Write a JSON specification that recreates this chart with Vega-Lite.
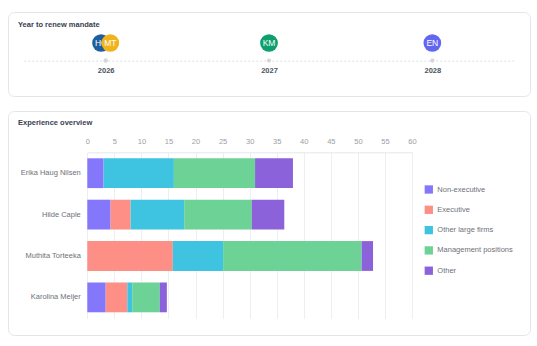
{
  "$schema": "https://vega.github.io/schema/vega-lite/v6.json",
  "padding": {"left": 7, "top": 11, "right": 0, "bottom": 0},
  "background": "white",
  "spacing": 13,
  "config": {"font": "Liberation Sans"},
  "resolve": {"scale": {"color": "independent"}, "legend": {"color": "independent"}},
  "vconcat": [
    {
      "width": 522,
      "height": 84,
      "view": {"stroke": "#e3e5e8", "cornerRadius": 6, "strokeWidth": 1, "fill": "white"},
      "title": {"text": "Year to renew mandate", "anchor": "start", "frame": "group", "orient": "top", "offset": -20, "baseline": "middle", "dx": 10, "fontSize": 7.5, "font": "Liberation Sans", "fontWeight": "bold", "color": "#374151"},
      "data": {"values": [
        {"initials": "HC", "name": "Hilde Caple", "year": 2026},
        {"initials": "MT", "name": "Muthita Torteeka", "year": 2026},
        {"initials": "KM", "name": "Karolina Meijer", "year": 2027},
        {"initials": "EN", "name": "Erika Haug Nilsen", "year": 2028}
      ]},
      "encoding": {
        "x": {"field": "year", "type": "quantitative",
          "scale": {"domain": [2025.5, 2028.5], "range": [16, 506], "nice": false, "zero": false},
          "axis": {"orient": "bottom", "offset": -35.4, "values": [2026, 2027, 2028], "format": "d", "title": null, "ticks": false, "grid": false, "labelFlush": false, "domainColor": "#d1d5db", "domainDash": [1.5, 2.5], "domainWidth": 1, "labelFont": "Liberation Sans", "labelFontSize": 7.5, "labelFontWeight": "bold", "labelColor": "#4b5563", "labelPadding": 6}}
      },
      "layer": [
        {"mark": {"type": "point", "filled": true, "color": "#d4d6da", "size": 18, "opacity": 1, "yOffset": 6.6}},
        {"transform": [{"filter": "datum.initials === 'HC'"}],
         "mark": {"type": "circle", "size": 314, "opacity": 1, "yOffset": -11, "xOffset": -4.6},
         "encoding": {"color": {"field": "initials", "type": "nominal", "scale": {"domain": ["HC", "MT", "KM", "EN"], "range": ["#1f5e9c", "#f0b31c", "#0e9f6e", "#6366f1"]}, "legend": null}}},
        {"transform": [{"filter": "datum.initials === 'HC'"}],
         "mark": {"type": "text", "color": "white", "fontSize": 8.5, "fontWeight": 500, "yOffset": -11, "xOffset": -4.6},
         "encoding": {"text": {"field": "initials"}}},
        {"transform": [{"filter": "datum.initials === 'MT'"}],
         "mark": {"type": "circle", "size": 314, "opacity": 1, "yOffset": -11, "xOffset": 4.6},
         "encoding": {"color": {"field": "initials", "type": "nominal", "legend": null}}},
        {"transform": [{"filter": "datum.initials === 'MT'"}],
         "mark": {"type": "text", "color": "white", "fontSize": 8.5, "fontWeight": 500, "yOffset": -11, "xOffset": 4.6},
         "encoding": {"text": {"field": "initials"}}},
        {"transform": [{"filter": "datum.year !== 2026"}],
         "mark": {"type": "circle", "size": 314, "opacity": 1, "yOffset": -11},
         "encoding": {"color": {"field": "initials", "type": "nominal", "legend": null}}},
        {"transform": [{"filter": "datum.year !== 2026"}],
         "mark": {"type": "text", "color": "white", "fontSize": 8.5, "fontWeight": 500, "yOffset": -11},
         "encoding": {"text": {"field": "initials"}}}
      ]
    },
    {
      "width": 522,
      "height": 224,
      "view": {"stroke": "#e3e5e8", "cornerRadius": 6, "strokeWidth": 1, "fill": "white"},
      "title": {"text": "Experience overview", "anchor": "start", "frame": "group", "orient": "top", "offset": -19, "baseline": "middle", "dx": 10, "fontSize": 7.5, "font": "Liberation Sans", "fontWeight": "bold", "color": "#374151"},
      "data": {"values": [
        {"name": "Erika Haug Nilsen", "category": "Non-executive", "seq": 1, "years": 3},
        {"name": "Erika Haug Nilsen", "category": "Other large firms", "seq": 3, "years": 13},
        {"name": "Erika Haug Nilsen", "category": "Management positions", "seq": 4, "years": 15},
        {"name": "Erika Haug Nilsen", "category": "Other", "seq": 5, "years": 7},
        {"name": "Hilde Caple", "category": "Non-executive", "seq": 1, "years": 4.3},
        {"name": "Hilde Caple", "category": "Executive", "seq": 2, "years": 3.7},
        {"name": "Hilde Caple", "category": "Other large firms", "seq": 3, "years": 9.9},
        {"name": "Hilde Caple", "category": "Management positions", "seq": 4, "years": 12.5},
        {"name": "Hilde Caple", "category": "Other", "seq": 5, "years": 6},
        {"name": "Muthita Torteeka", "category": "Executive", "seq": 2, "years": 15.8},
        {"name": "Muthita Torteeka", "category": "Other large firms", "seq": 3, "years": 9.3},
        {"name": "Muthita Torteeka", "category": "Management positions", "seq": 4, "years": 25.6},
        {"name": "Muthita Torteeka", "category": "Other", "seq": 5, "years": 2.1},
        {"name": "Karolina Meijer", "category": "Non-executive", "seq": 1, "years": 3.4},
        {"name": "Karolina Meijer", "category": "Executive", "seq": 2, "years": 4},
        {"name": "Karolina Meijer", "category": "Other large firms", "seq": 3, "years": 0.9},
        {"name": "Karolina Meijer", "category": "Management positions", "seq": 4, "years": 5.1},
        {"name": "Karolina Meijer", "category": "Other", "seq": 5, "years": 1.3}
      ]},
      "mark": {"type": "bar"},
      "encoding": {
        "y": {"field": "name", "type": "nominal",
          "sort": ["Erika Haug Nilsen", "Hilde Caple", "Muthita Torteeka", "Karolina Meijer"],
          "scale": {"range": [41.3, 207.3], "paddingInner": 0.28, "paddingOuter": 0.145},
          "axis": {"title": null, "offset": -79.3, "domain": false, "ticks": false, "grid": false, "labelPadding": 7, "labelFontSize": 7.5, "labelColor": "#6e7178", "labelFont": "Liberation Sans"}},
        "x": {"field": "years", "type": "quantitative", "stack": "zero",
          "scale": {"domain": [0, 60], "range": [79.3, 404], "nice": false},
          "axis": {"orient": "top", "offset": -41.3, "values": [0, 5, 10, 15, 20, 25, 30, 35, 40, 45, 50, 55, 60], "title": null, "ticks": false, "grid": true, "gridColor": "#eceef2", "domainColor": "#e5e7eb", "labelFlush": false, "labelColor": "#9a9ea6", "labelFontSize": 7.5, "labelPadding": 7, "labelFont": "Liberation Sans"}},
        "color": {"field": "category", "type": "nominal",
          "scale": {"domain": ["Non-executive", "Executive", "Other large firms", "Management positions", "Other"], "range": ["#8577fb", "#fd8f86", "#3ec3e0", "#6dd296", "#8b62da"]},
          "legend": {"orient": "none", "legendX": 416.3, "legendY": 74, "title": null, "symbolType": "square", "symbolSize": 69, "symbolStrokeWidth": 0, "symbolOpacity": 1, "labelFontSize": 7.5, "labelColor": "#6e7178", "labelFont": "Liberation Sans", "rowPadding": 11.3, "labelOffset": 4, "padding": 0}},
        "order": {"field": "seq", "type": "quantitative", "sort": "ascending"}
      }
    }
  ]
}
